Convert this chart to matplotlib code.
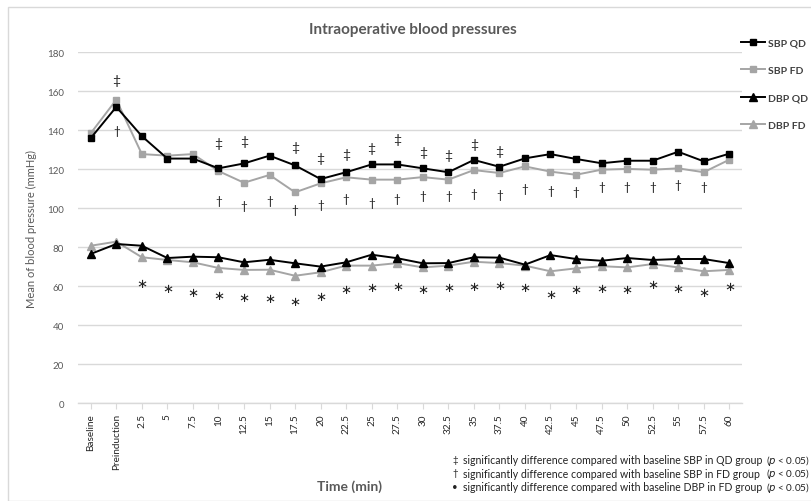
import matplotlib
matplotlib.use("Agg")
import matplotlib.pyplot as plt
from matplotlib.patches import Rectangle

plt.rcParams['font.family'] = ['Lato', 'DejaVu Sans']

categories = ["Baseline", "Preinduction", "2.5", "5", "7.5", "10", "12.5", "15", "17.5", "20",
              "22.5", "25", "27.5", "30", "32.5", "35", "37.5", "40", "42.5", "45", "47.5",
              "50", "52.5", "55", "57.5", "60"]

sbp_qd = [136, 152, 137, 125.5, 125.5, 120.5, 123, 127, 122, 115, 118.5, 122.5, 122.5, 120.5,
          118.5, 124.8, 121.3, 125.6, 127.8, 125.3, 123.1, 124.4, 124.4, 129, 124.1, 128]
sbp_fd = [138.5, 155.7, 127.8, 127, 127.8, 119.1, 113.1, 117.1, 108.2, 112.8, 115.9, 114.7,
          114.7, 116, 114.7, 119.6, 118.1, 121.5, 118.8, 117.2, 119.8, 120.2, 119.8, 120.5,
          118.5, 124.9]
dbp_qd = [76.6, 81.7, 80.8, 74.5, 75.2, 74.9, 72.3, 73.6, 71.8, 70.1, 72.3, 76.2, 74.4, 71.8,
          71.9, 74.9, 74.7, 71.1, 76, 74, 73.1, 74.5, 73.5, 74, 74, 71.9]
dbp_fd = [80.8, 82.9, 74.9, 73.5, 72.3, 69.4, 68.4, 68.5, 65.4, 67.2, 70.6, 70.6, 71.9, 69.7,
          70.6, 72.6, 71.9, 70.6, 67.7, 69.2, 70.3, 69.7, 71.4, 69.7, 67.7, 68.4]

# significance marks: (category, y position)
ddagger_cats = ["Preinduction", "10", "12.5", "17.5", "20", "22.5", "25", "27.5", "30", "32.5", "35", "37.5"]
ddagger_y = [166, 133.3, 134.7, 131.3, 125.8, 127.8, 130.8, 135.5, 128.7, 127.5, 133, 129.6]
dagger_cats = ["Preinduction", "10", "12.5", "15", "17.5", "20", "22.5", "25", "27.5", "30",
               "32.5", "35", "37.5", "40", "42.5", "45", "47.5", "50", "52.5", "55", "57.5"]
dagger_y = [139.8, 103.9, 101.3, 103.9, 99.5, 101.7, 104.8, 103.1, 105.1, 106.8, 106.5, 107.8,
            107.3, 109.9, 109, 108.5, 111.3, 111.3, 111.3, 112, 111.3]
star_cats = ["2.5", "5", "7.5", "10", "12.5", "15", "17.5", "20", "22.5", "25", "27.5", "30",
             "32.5", "35", "37.5", "40", "42.5", "45", "47.5", "50", "52.5", "55", "57.5", "60"]
star_y = [62, 59.5, 57.4, 56, 54.9, 54.4, 52.6, 55.2, 59.1, 59.8, 60.3, 59.1, 59.8, 60.3, 60.7,
          59.8, 56.4, 59.1, 59.5, 59.1, 61.2, 59.5, 57.2, 60.3]

W, H = 812, 502
fig = plt.figure(figsize=(W / 100, H / 100), dpi=100)
fig.patch.set_facecolor('white')

# chart-area border
fig.patches.append(Rectangle((8 / W, 0), 1.0, 1 - 8 / H, transform=fig.transFigure,
                             fill=False, edgecolor='#D9D9D9', linewidth=1.0))

ax = fig.add_axes([78 / W, 1 - 404.3 / H, (742 - 78) / W, (404.3 - 53.3) / H])
x = list(range(len(categories)))

black = '#000000'
gray = '#A5A5A5'
l1, = ax.plot(x, sbp_qd, color=black, lw=1.4, marker='s', ms=5, label='SBP QD', zorder=4)
l2, = ax.plot(x, sbp_fd, color=gray, lw=1.4, marker='s', ms=5, label='SBP FD', zorder=3)
l3, = ax.plot(x, dbp_qd, color=black, lw=1.4, marker='^', ms=5.5, label='DBP QD', zorder=4)
l4, = ax.plot(x, dbp_fd, color=gray, lw=1.4, marker='^', ms=5.5, label='DBP FD', zorder=3)

idx = {c: i for i, c in enumerate(categories)}
for c, y in zip(ddagger_cats, ddagger_y):
    ax.text(idx[c], y, '\u2021', ha='center', va='center', fontsize=10, color='#222222')
for c, y in zip(dagger_cats, dagger_y):
    ax.text(idx[c], y, '\u2020', ha='center', va='center', fontsize=8.5, color='#222222')
for c, y in zip(star_cats, star_y):
    ax.text(idx[c], y, r'$\ast$', ha='center', va='center', fontsize=9.5, color='#222222')

ax.set_xlim(-0.5, len(categories) - 0.5)
ax.set_ylim(0, 180)
ax.set_yticks(range(0, 181, 20))
ax.grid(axis='y', color='#D9D9D9', linewidth=1.0)
ax.set_axisbelow(True)
for s in ['top', 'right', 'left']:
    ax.spines[s].set_visible(False)
ax.spines['bottom'].set_color('#D9D9D9')
ax.spines['bottom'].set_linewidth(1.0)

ax.set_xticks(x)
ax.set_xticklabels(categories, rotation=90, fontsize=7.2, color='#262626')
ax.tick_params(axis='x', length=4, color='#D9D9D9', pad=3)
ax.tick_params(axis='y', length=0, pad=10, labelsize=7, labelcolor='#595959')

ax.set_ylabel('Mean of blood pressure (mmHg)', fontsize=8, color='#595959', labelpad=7)

fig.text(413 / W, 1 - 30 / H, 'Intraoperative blood pressures', ha='center', va='center',
         fontsize=11, color='#595959', fontweight='bold')

leg = fig.legend(handles=[l1, l2, l3, l4], loc='upper left',
                 bbox_to_anchor=(741 / W, 1 - 39 / H), frameon=False, fontsize=7.5,
                 handlelength=2.3, handletextpad=0.3, labelspacing=1.75,
                 borderpad=0, borderaxespad=0)
for t in leg.get_texts():
    t.set_color('#404040')
    t.set_fontweight('bold')

fig.text(350 / W, 1 - 487 / H, 'Time (min)', ha='center', va='center', fontsize=10,
         color='#595959', fontweight='bold')

notes_sym = ['\u2021', '\u2020', '\u2022']
notes_txt = ['significantly difference compared with baseline SBP in QD group',
             'significantly difference compared with baseline SBP in FD group',
             'significantly difference compared with baseline DBP in FD group']
notes_y = [461, 474, 488]
for s, t, yy in zip(notes_sym, notes_txt, notes_y):
    fig.text(455 / W, 1 - yy / H, s, ha='center', va='center', fontsize=7, color='#222222')
    fig.text(463 / W, 1 - yy / H, t, ha='left', va='center', fontsize=7.6, color='#222222')
    fig.text(766 / W, 1 - yy / H, r'($\mathit{p}$ < 0.05)', ha='left', va='center',
             fontsize=7.2, color='#222222')

fig.savefig('out.png', dpi=100)
